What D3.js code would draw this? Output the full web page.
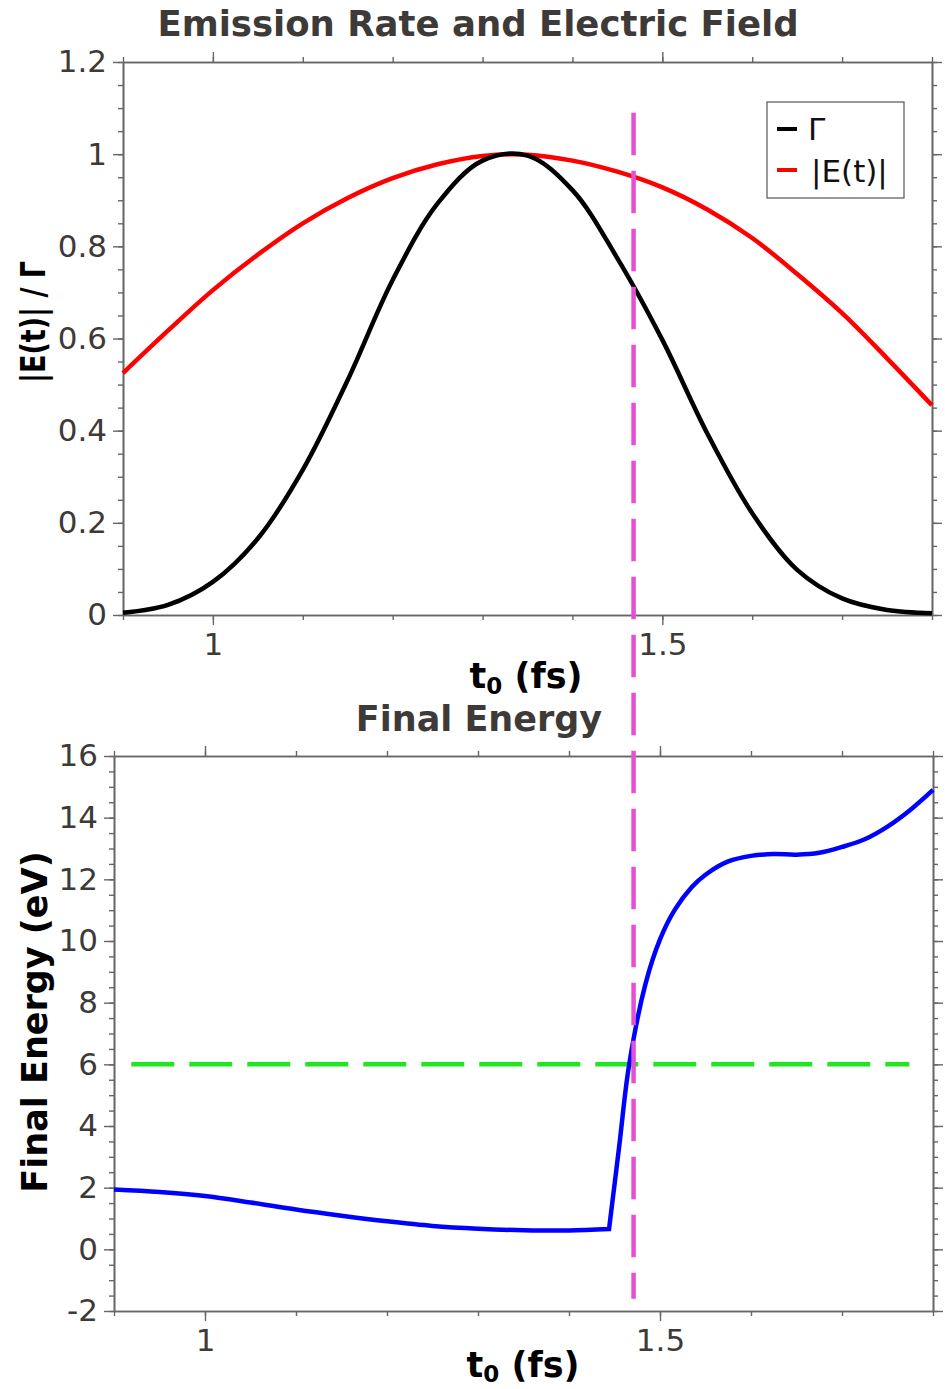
<!DOCTYPE html>
<html>
<head>
<meta charset="UTF-8">
<title>Emission Rate and Final Energy</title>
<script src="https://cdn.jsdelivr.net/npm/d3@7"></script>
<style>
  body { margin: 0; background: #fff; }
  svg { font-family: "DejaVu Sans", sans-serif; }
</style>
</head>
<body>
<svg id="vis" width="945" height="1389"></svg>
<script>
// ---- data ----
const tTop = [0.9, 0.95, 1.0, 1.05, 1.1, 1.15, 1.2, 1.25, 1.3, 1.35, 1.4, 1.45, 1.5, 1.55, 1.6, 1.65, 1.7, 1.75, 1.8];
const fieldAbs = [0.525, 0.617, 0.705, 0.782, 0.850, 0.905, 0.948, 0.978, 0.996, 0.999, 0.986, 0.962, 0.928, 0.880, 0.818, 0.740, 0.655, 0.557, 0.455];
const gammaRate = [0.005, 0.022, 0.072, 0.166, 0.315, 0.51, 0.727, 0.893, 0.986, 0.997, 0.922, 0.774, 0.597, 0.394, 0.221, 0.098, 0.036, 0.011, 0.004];

const tBot = [0.9, 0.95, 1.0, 1.05, 1.1, 1.15, 1.2, 1.25, 1.3, 1.35, 1.4, 1.444, 1.455, 1.466, 1.484, 1.5, 1.516, 1.535, 1.55, 1.575, 1.6, 1.625, 1.65, 1.675, 1.7, 1.725, 1.75, 1.775, 1.8];
const finalEnergy = [1.94, 1.86, 1.73, 1.52, 1.29, 1.09, 0.91, 0.76, 0.67, 0.62, 0.61, 0.66, 3.3, 5.97, 8.6, 10.05, 11.0, 11.75, 12.15, 12.58, 12.76, 12.82, 12.8, 12.86, 13.05, 13.3, 13.71, 14.25, 14.9];
const kinkIndex = 11; // sharp corner of the blue curve at t0 = 1.444

const thresholdEnergy = 6;        // green dashed line
const thresholdSpan = [0.919, 1.774];
const markT0 = 1.468;             // magenta dashed line

const topYTicks = [0, 0.2, 0.4, 0.6, 0.8, 1, 1.2];
const botYTicks = [-2, 0, 2, 4, 6, 8, 10, 12, 14, 16];
const xTicks = [1, 1.5];

const svg = d3.select("#vis");
const textCol = "#3d3a38";
const axisCol = "#666";
const fmt = d => String(d);

// scales
const xTop = d3.scaleLinear().domain([0.9, 1.8]).range([123, 932]);
const yTop = d3.scaleLinear().domain([0, 1.2]).range([615, 62]);
const xBot = d3.scaleLinear().domain([0.9, 1.8]).range([114, 933]);
const yBot = d3.scaleLinear().domain([-2, 16]).range([1311, 756]);

const minorX = d3.range(0.9, 1.8001, 0.1);

function drawFrame(x, y, yMajor, yMinorStep) {
  const [x0, x1] = x.range();
  const [y0, y1] = y.range();
  const yMinor = d3.range(y.domain()[0], y.domain()[1] + 1e-6, yMinorStep);
  const g = svg.append("g");

  const style = sel => {
    sel.selectAll("path.domain").attr("stroke", axisCol).attr("stroke-width", 1.6);
    sel.selectAll(".tick line").attr("stroke", axisCol).attr("stroke-width", 1.4);
  };

  // minor ticks
  g.append("g").attr("transform", `translate(0,${y0})`)
    .call(d3.axisBottom(x).tickValues(minorX).tickSize(5).tickSizeOuter(0).tickFormat(""))
    .call(style);
  g.append("g").attr("transform", `translate(0,${y1})`)
    .call(d3.axisTop(x).tickValues(minorX).tickSize(5).tickSizeOuter(0).tickFormat(""))
    .call(style);
  g.append("g").attr("transform", `translate(${x0},0)`)
    .call(d3.axisLeft(y).tickValues(yMinor).tickSize(5).tickSizeOuter(0).tickFormat(""))
    .call(style);
  g.append("g").attr("transform", `translate(${x1},0)`)
    .call(d3.axisRight(y).tickValues(yMinor).tickSize(5).tickSizeOuter(0).tickFormat(""))
    .call(style);

  // major ticks + labels
  const xb = g.append("g").attr("transform", `translate(0,${y0})`)
    .call(d3.axisBottom(x).tickValues(xTicks).tickSize(10).tickSizeOuter(0).tickPadding(8).tickFormat(fmt))
    .call(style);
  g.append("g").attr("transform", `translate(0,${y1})`)
    .call(d3.axisTop(x).tickValues(xTicks).tickSize(10).tickSizeOuter(0).tickFormat(""))
    .call(style);
  const yl = g.append("g").attr("transform", `translate(${x0},0)`)
    .call(d3.axisLeft(y).tickValues(yMajor).tickSize(10).tickSizeOuter(0).tickPadding(6).tickFormat(fmt))
    .call(style);
  g.append("g").attr("transform", `translate(${x1},0)`)
    .call(d3.axisRight(y).tickValues(yMajor).tickSize(10).tickSizeOuter(0).tickFormat(""))
    .call(style);

  [xb, yl].forEach(a => a.selectAll("text")
    .attr("font-size", 31).attr("fill", textCol).attr("font-family", "DejaVu Sans"));
}

// ---------- top chart ----------
drawFrame(xTop, yTop, topYTicks, 0.05);

const lineTop = vals => d3.line()
  .x((d, i) => xTop(tTop[i]))
  .y(d => yTop(d))
  .curve(d3.curveCatmullRom.alpha(0.5))(vals);

svg.append("path").attr("d", lineTop(fieldAbs))
  .attr("fill", "none").attr("stroke", "#ff0000").attr("stroke-width", 4.5);
svg.append("path").attr("d", lineTop(gammaRate))
  .attr("fill", "none").attr("stroke", "#000").attr("stroke-width", 4.5);

svg.append("text").attr("x", 478).attr("y", 36).attr("text-anchor", "middle")
  .attr("font-size", 35.5).attr("font-weight", "bold").attr("fill", textCol)
  .text("Emission Rate and Electric Field");

const xlab1 = svg.append("text").attr("x", 526).attr("y", 688).attr("text-anchor", "middle")
  .attr("font-size", 35).attr("font-weight", "bold").attr("fill", "#000");
xlab1.append("tspan").text("t");
xlab1.append("tspan").attr("font-size", 23).attr("dy", 6).text("0");
xlab1.append("tspan").attr("dy", -6).text(" (fs)");

svg.append("text").attr("transform", "translate(45,322) rotate(-90)").attr("text-anchor", "middle")
  .attr("font-size", 34).attr("font-weight", "bold").attr("fill", "#000")
  .attr("textLength", 122).attr("lengthAdjust", "spacingAndGlyphs")
  .text("|E(t)| / Γ");

// legend
const leg = svg.append("g");
leg.append("rect").attr("x", 767).attr("y", 102).attr("width", 137).attr("height", 96)
  .attr("fill", "#fff").attr("stroke", "#555").attr("stroke-width", 1.2);
[["Γ", "#000", 129, 140, 808], ["|E(t)|", "#ff0000", 170, 182, 811]].forEach(([lab, c, ly, ty, tx]) => {
  leg.append("line").attr("x1", 777).attr("x2", 797).attr("y1", ly).attr("y2", ly)
    .attr("stroke", c).attr("stroke-width", 4);
  leg.append("text").attr("x", tx).attr("y", ty).attr("font-size", 31).attr("fill", "#111").text(lab);
});

// ---------- bottom chart ----------
drawFrame(xBot, yBot, botYTicks, 0.5);

svg.append("line")
  .attr("x1", xBot(thresholdSpan[0])).attr("x2", xBot(thresholdSpan[1]))
  .attr("y1", yBot(thresholdEnergy)).attr("y2", yBot(thresholdEnergy))
  .attr("stroke", "#1fe61f").attr("stroke-width", 4.5).attr("stroke-dasharray", "43,15");

// the blue curve has a sharp corner, so it is smoothed in two parts
const energyPts = tBot.map((t, i) => [t, finalEnergy[i]]);
const lineBot = d3.line().x(d => xBot(d[0])).y(d => yBot(d[1])).curve(d3.curveCatmullRom.alpha(0.5));
const pathBot = lineBot(energyPts.slice(0, kinkIndex + 1)) + lineBot(energyPts.slice(kinkIndex)).replace(/^M[^A-Za-z]*/, "");
svg.append("path").attr("d", pathBot)
  .attr("fill", "none").attr("stroke", "#0000ff").attr("stroke-width", 4.5)
  .attr("stroke-linejoin", "miter");

svg.append("text").attr("x", 479).attr("y", 731).attr("text-anchor", "middle")
  .attr("font-size", 35).attr("font-weight", "bold").attr("fill", textCol)
  .text("Final Energy");

const xlab2 = svg.append("text").attr("x", 523).attr("y", 1377).attr("text-anchor", "middle")
  .attr("font-size", 35).attr("font-weight", "bold").attr("fill", "#000");
xlab2.append("tspan").text("t");
xlab2.append("tspan").attr("font-size", 23).attr("dy", 5).text("0");
xlab2.append("tspan").attr("dy", -5).text(" (fs)");

svg.append("text").attr("transform", "translate(47,1022) rotate(-90)").attr("text-anchor", "middle")
  .attr("font-size", 35).attr("font-weight", "bold").attr("fill", "#000")
  .text("Final Energy (eV)");

// magenta dashed marker spanning both panels
svg.append("line")
  .attr("x1", xTop(markT0)).attr("x2", xTop(markT0))
  .attr("y1", yTop(1.09)).attr("y2", yBot(-1.6))
  .attr("stroke", "#e550d0").attr("stroke-width", 4.5).attr("stroke-dasharray", "42.5,15.5");
</script>
</body>
</html>
